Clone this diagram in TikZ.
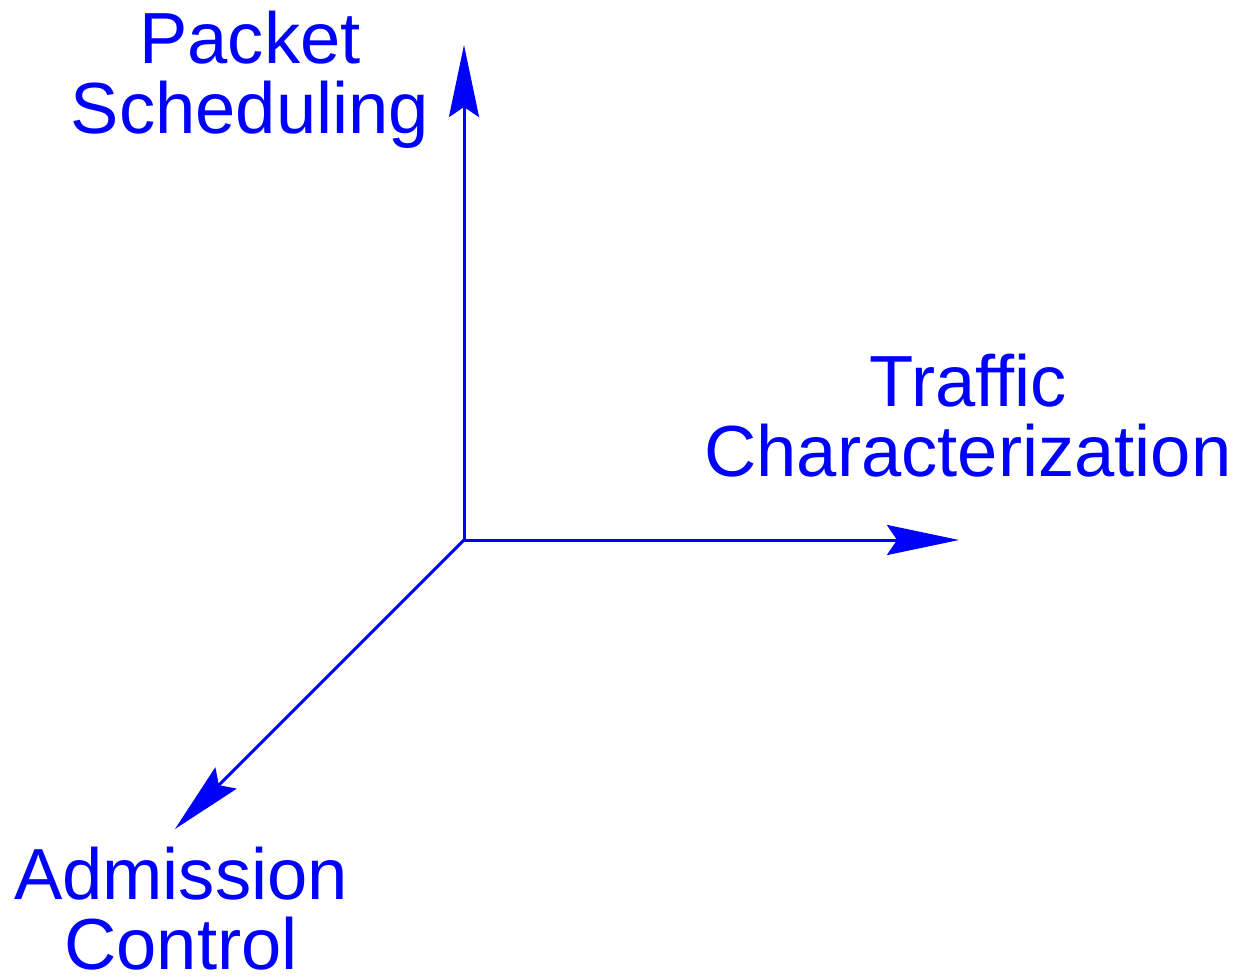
\documentclass[tikz,border=0pt]{standalone}
\usepackage{fontspec}
\setmainfont{Liberation Sans}
\usetikzlibrary{arrows.meta}
\tikzstyle{axisarrow} = [blue, line width=1.5pt, -{Stealth[length=36pt, width=15pt, inset=5pt]}]
\tikzstyle{axislabel} = [blue, inner sep=0pt, align=center, font=\fontsize{36.2}{35}\selectfont]

\begin{document}
\begin{tikzpicture}[x=0.5pt, y=-0.5pt]
\useasboundingbox (0,0) rectangle (1242,979);

% Axes
\coordinate (O) at (464,540);
\coordinate (PSend) at (464,45);
\coordinate (TCend) at (959,540);
\coordinate (ACend) at (175,829);

\draw [axisarrow] (O) -- (PSend);
\draw [axisarrow] (O) -- (TCend);
\draw [axisarrow] (O) -- (ACend);

% Labels
\node (PS) [axislabel] at (250,80) {Packet\\Scheduling};
\node (TC) [axislabel] at (968,416) {Traffic\\Characterization};
\node (AC) [axislabel] at (181,909) {Admission\\Control};

\end{tikzpicture}
\end{document}
